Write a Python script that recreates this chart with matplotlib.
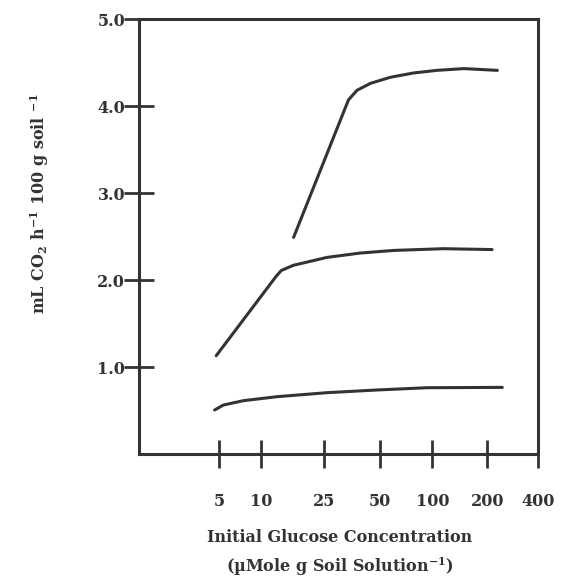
import numpy as np
import matplotlib.pyplot as plt

# respiration curves (x = glucose, y = mL CO2 / h / 100 g soil)
top_x = [16.0, 33.8, 37.6, 44.5, 57.5, 78.2, 106, 149, 230]
top_y = [2.49, 4.07, 4.18, 4.26, 4.33, 4.38, 4.41, 4.43, 4.41]

mid_x = [4.8, 12.4, 13.4, 16.0, 25.8, 39.2, 60.1, 115, 214]
mid_y = [1.13, 2.04, 2.11, 2.17, 2.26, 2.31, 2.34, 2.36, 2.35]

low_x = [4.7, 5.35, 7.45, 12.6, 25.8, 48.4, 93.2, 246]
low_y = [0.506, 0.563, 0.613, 0.659, 0.705, 0.736, 0.762, 0.766]

x_ticks = [5, 10, 25, 50, 100, 200, 400]
x_labels = ['5', '10', '25', '50', '100', '200', '400']
y_ticks = [1, 2, 3, 4, 5]
y_labels = ['1.0', '2.0', '3.0', '4.0', '5.0']

# the original axis is hand drawn: log-like, but 5-10 is squeezed.
# piecewise log scale through the drawn tick spacing
L = np.log10([1] + x_ticks + [1000])
P = np.array([97, 219.3, 261, 324.3, 379.3, 432, 486.7, 537.3, 604])

def forward(x):
    return np.interp(np.log10(np.clip(x, 1e-6, None)), L, P)

def inverse(p):
    return 10 ** np.interp(p, P, L)

ink = '#333333'
plt.rcParams['font.family'] = 'DejaVu Serif'
plt.rcParams['font.weight'] = 'bold'
plt.rcParams['mathtext.default'] = 'regular'
plt.rcParams['axes.unicode_minus'] = False

fig = plt.figure(figsize=(5.62, 5.78), dpi=100)
ax = fig.add_axes([0.2473, 0.2145, 0.710, 0.7526])

for xs, ys in [(top_x, top_y), (mid_x, mid_y), (low_x, low_y)]:
    ax.plot(xs, ys, color=ink, lw=2.2, solid_capstyle='round', solid_joinstyle='round')

ax.set_xscale('function', functions=(forward, inverse))
ax.set_xlim(1.74, 401)
ax.set_ylim(0, 5)

ax.set_xticks(x_ticks)
ax.set_xticklabels(x_labels)
ax.minorticks_off()
ax.set_yticks(y_ticks)
ax.set_yticklabels(y_labels)

for s in ax.spines.values():
    s.set_linewidth(2.2)
    s.set_color(ink)

ax.tick_params(axis='x', direction='inout', length=20, width=2, color=ink,
               labelsize=11.5, labelcolor=ink, pad=18)
ax.tick_params(axis='y', direction='inout', length=22, width=2, color=ink,
               labelsize=11.5, labelcolor=ink, pad=-1)

fig.text(0.604, 1 - 537 / 578, 'Initial Glucose Concentration', ha='center', va='center',
         fontsize=11.5, color=ink)
fig.text(0.604, 1 - 567 / 578, '(\u00b5Mole g Soil Solution$^{-1}$)', ha='center', va='center',
         fontsize=11.5, color=ink)
fig.text(40 / 562, 1 - 204 / 578, 'mL CO$_2$ h$^{-1}$ 100 g soil $^{-1}$', rotation=90,
         ha='center', va='center', fontsize=11.5, color=ink)

plt.savefig('out.png', dpi=100, facecolor='white')
